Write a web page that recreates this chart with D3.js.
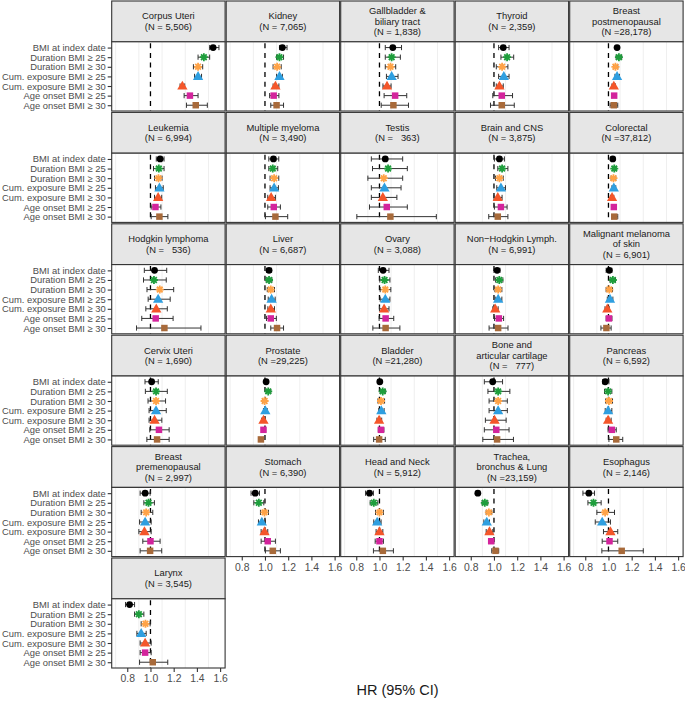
<!DOCTYPE html>
<html><head><meta charset="utf-8">
<script src="https://cdn.jsdelivr.net/npm/d3@7"></script>
<style>
html,body{margin:0;padding:0;background:#fff;}
svg text{font-family:"Liberation Sans",Arial,Helvetica,sans-serif;white-space:pre;}
</style></head>
<body><svg id="chart" width="685" height="703"></svg>
<script>
const cancers = [
 "Corpus Uteri\n(N = 5,506)","Kidney\n(N = 7,065)","Gallbladder &\nbiliary tract\n(N = 1,838)","Thyroid\n(N = 2,359)","Breast\npostmenopausal\n(N =28,178)",
 "Leukemia\n(N = 6,994)","Multiple myeloma\n(N = 3,490)","Testis\n(N =   363)","Brain and CNS\n(N = 3,875)","Colorectal\n(N =37,812)",
 "Hodgkin lymphoma\n(N =   536)","Liver\n(N = 6,687)","Ovary\n(N = 3,088)","Non\u2212Hodgkin Lymph.\n(N = 6,991)","Malignant melanoma\nof skin\n(N = 6,901)",
 "Cervix Uteri\n(N = 1,690)","Prostate\n(N =29,225)","Bladder\n(N =21,280)","Bone and\narticular cartilage\n(N =   777)","Pancreas\n(N = 6,592)",
 "Breast\npremenopausal\n(N = 2,997)","Stomach\n(N = 6,390)","Head and Neck\n(N = 5,912)","Trachea,\nbronchus & Lung\n(N =23,159)","Esophagus\n(N = 2,146)",
 "Larynx\n(N = 3,545)"
];
const measures = ["BMI at index date","Duration BMI \u2265 25","Duration BMI \u2265 30","Cum. exposure BMI \u2265 25","Cum. exposure BMI \u2265 30","Age onset BMI \u2265 25","Age onset BMI \u2265 30"];
const hr = [
 [1.54,1.46,1.41,1.41,1.275,1.34,1.39],
 [1.15,1.125,1.105,1.125,1.09,1.075,1.10],
 [1.115,1.105,1.095,1.105,1.065,1.135,1.12],
 [1.08,1.113,1.07,1.085,1.047,1.067,1.067],
 [1.074,1.09,1.06,1.074,1.046,1.049,1.046],
 [1.083,1.072,1.069,1.077,1.066,1.043,1.077],
 [1.073,1.067,1.079,1.079,1.053,1.076,1.09],
 [1.05,1.074,1.037,1.043,1.029,1.063,1.094],
 [1.047,1.07,1.047,1.06,1.033,1.06,1.033],
 [1.037,1.05,1.043,1.046,1.031,1.046,1.05],
 [1.035,1.03,1.08,1.066,1.05,1.045,1.12],
 [1.035,1.035,1.05,1.057,1.05,1.05,1.104],
 [1.031,1.044,1.05,1.05,1.04,1.053,1.053],
 [1.027,1.046,1.036,1.036,1.011,1.042,1.036],
 [1.007,1.038,1.007,1.013,0.99,1.004,0.982],
 [1.01,1.048,1.048,1.048,1.035,1.073,1.057],
 [1.01,1.028,0.997,1.003,0.987,0.987,0.965],
 [1.003,1.028,1.013,1.016,0.997,1.013,0.997],
 [0.989,1.036,1.036,1.036,1.005,1.02,1.027],
 [0.972,0.997,1.004,0.997,0.997,1.029,1.067],
 [0.954,0.983,0.963,0.954,0.948,1.0,0.997],
 [0.916,0.947,0.996,0.973,0.996,1.024,1.067],
 [0.914,0.951,1.0,0.98,1.0,1.0,1.029],
 [0.861,0.921,0.956,0.938,0.961,0.976,1.013],
 [0.831,0.871,0.971,0.946,1.017,1.009,1.114],
 [0.82,0.90,0.957,0.92,0.954,0.954,1.02]
];
const ciLow = [
 [1.51,1.41,1.37,1.38,1.255,1.29,1.31],
 [1.125,1.10,1.07,1.10,1.07,1.04,1.05],
 [1.05,1.05,1.05,1.06,1.03,1.04,1.015],
 [1.04,1.06,1.02,1.04,1.02,0.99,0.97],
 [1.066,1.066,1.043,1.056,1.03,1.03,1.014],
 [1.05,1.026,1.035,1.043,1.035,1.006,1.006],
 [1.033,1.033,1.044,1.044,1.024,1.024,1.004],
 [0.93,0.94,0.90,0.93,0.93,0.914,0.805],
 [1.004,1.033,1.013,1.024,1.0,1.004,0.955],
 [1.03,1.037,1.023,1.03,1.017,1.03,1.03],
 [0.947,0.94,0.97,0.98,0.96,0.925,0.88],
 [1.013,1.01,1.02,1.028,1.025,1.013,1.05],
 [0.99,1.003,1.006,1.006,1.0,0.997,0.943],
 [1.0,1.014,1.008,1.011,0.99,1.005,0.958],
 [0.98,1.013,0.98,0.99,0.97,0.98,0.935],
 [0.953,0.956,0.979,0.988,0.988,0.994,0.969],
 [1.0,1.01,0.98,0.987,0.972,0.972,0.95],
 [0.99,1.006,0.987,0.994,0.978,0.99,0.95],
 [0.917,0.948,0.958,0.958,0.926,0.917,0.904],
 [0.95,0.966,0.976,0.972,0.98,0.997,1.004],
 [0.911,0.943,0.92,0.906,0.90,0.934,0.911],
 [0.88,0.904,0.961,0.944,0.967,0.967,1.004],
 [0.88,0.92,0.966,0.951,0.971,0.963,0.948],
 [0.853,0.898,0.933,0.913,0.933,0.953,0.981],
 [0.78,0.823,0.90,0.886,0.957,0.946,0.943],
 [0.785,0.863,0.92,0.883,0.911,0.911,0.906]
];
const ciHigh = [
 [1.59,1.51,1.45,1.44,1.295,1.41,1.49],
 [1.19,1.16,1.14,1.15,1.12,1.12,1.16],
 [1.19,1.18,1.14,1.16,1.10,1.235,1.25],
 [1.13,1.17,1.12,1.13,1.08,1.16,1.175],
 [1.086,1.114,1.08,1.094,1.06,1.066,1.08],
 [1.117,1.117,1.10,1.11,1.097,1.09,1.15],
 [1.119,1.11,1.119,1.116,1.09,1.133,1.196],
 [1.20,1.24,1.20,1.186,1.15,1.24,1.49],
 [1.09,1.12,1.08,1.099,1.07,1.113,1.12],
 [1.046,1.066,1.063,1.063,1.046,1.063,1.08],
 [1.14,1.136,1.20,1.17,1.145,1.195,1.435],
 [1.057,1.06,1.082,1.088,1.082,1.098,1.16],
 [1.082,1.09,1.098,1.09,1.082,1.123,1.176],
 [1.052,1.077,1.068,1.068,1.036,1.083,1.121],
 [1.03,1.06,1.035,1.038,1.007,1.03,1.023],
 [1.067,1.145,1.13,1.136,1.098,1.161,1.161],
 [1.02,1.05,1.013,1.019,1.003,1.006,0.987],
 [1.016,1.05,1.044,1.04,1.019,1.038,1.05],
 [1.074,1.137,1.115,1.115,1.105,1.13,1.168],
 [1.004,1.029,1.035,1.029,1.023,1.067,1.123],
 [0.997,1.034,1.02,1.006,1.006,1.083,1.097],
 [0.953,0.99,1.03,1.004,1.024,1.09,1.133],
 [0.948,0.986,1.034,1.014,1.029,1.034,1.12],
 [0.869,0.947,0.981,0.961,0.99,0.999,1.041],
 [0.88,0.937,1.052,1.017,1.08,1.08,1.30],
 [0.863,0.943,0.997,0.963,1.006,1.006,1.149]
];
const xTicks = [0.8,1.0,1.2,1.4,1.6];
const gridTicks = [0.7,0.9,1.1,1.3,1.5];
const markerColors = ["#000000","#1e9e3c","#ffa347","#2f9fe0","#f4562a","#d3249c","#a86a3a"];
const markerShapes = ["circle","asterisk","asterisk","triangle","triangle","square","square"];
const xTitle = "HR (95% CI)";

const svg = d3.select("#chart");
const nCol = 5;
const colPitch = 114.5, panelW = 113.4, left0 = 111.7;
const rowPitch = 111.4, stripH = 40.8;
const xDomain = [0.666, 1.643];
const y = d3.scalePoint().domain(measures).padding(0.6);

function shape(g, kind, color, cx, cy){
  if(kind==="circle"){
    g.append("circle").attr("cx",cx).attr("cy",cy).attr("r",3.4).attr("fill",color);
  } else if(kind==="triangle"){
    g.append("path").attr("d", d3.symbol().type(d3.symbolTriangle).size(46)()).attr("transform",`translate(${cx},${cy+0.6})`).attr("fill",color);
  } else if(kind==="square"){
    g.append("path").attr("d", d3.symbol().type(d3.symbolSquare).size(42)()).attr("transform",`translate(${cx},${cy})`).attr("fill",color);
  } else {
    const r=4, p=d3.path();
    for(let k=0;k<4;k++){const a=k*Math.PI/4; p.moveTo(cx-r*Math.cos(a),cy-r*Math.sin(a)); p.lineTo(cx+r*Math.cos(a),cy+r*Math.sin(a));}
    g.append("path").attr("d",p.toString()).attr("stroke",color).attr("stroke-width",1.8).attr("fill","none");
  }
}

cancers.forEach((label,i)=>{
  const col=i%nCol, row=Math.floor(i/nCol);
  const x0 = left0 + col*colPitch;
  const top = row*rowPitch + 1;
  const pTop = top + stripH, pBot = row*rowPitch + 111;
  const x = d3.scaleLinear().domain(xDomain).range([x0, x0+panelW]);
  const yy = y.copy().range([pTop, pBot]);
  const g = svg.append("g");
  g.append("rect").attr("x",x0).attr("y",top).attr("width",panelW).attr("height",stripH)
    .attr("fill","#e6e6e6").attr("stroke","#333").attr("stroke-width",1.1);
  const lines = label.split("\n");
  const lh = 10.6, cy = top + stripH/2;
  lines.forEach((t,k)=>{
    g.append("text").attr("x",x0+panelW/2).attr("y",cy + (k-(lines.length-1)/2)*lh).attr("dy","0.35em")
      .attr("text-anchor","middle").attr("font-size",9.4).attr("fill","#1a1a1a").text(t);
  });
  g.append("rect").attr("x",x0).attr("y",pTop).attr("width",panelW).attr("height",pBot-pTop).attr("fill","#fff");
  g.selectAll(".grid").data(gridTicks).join("line")
    .attr("x1",d=>x(d)).attr("x2",d=>x(d)).attr("y1",pTop).attr("y2",pBot)
    .attr("stroke","#ebebeb").attr("stroke-width",0.8);
  g.append("line").attr("x1",x(1)).attr("x2",x(1)).attr("y1",pTop).attr("y2",pBot)
    .attr("stroke","#000").attr("stroke-width",1.3).attr("stroke-dasharray","5,4.6").attr("stroke-dashoffset",-1.5);
  measures.forEach((m,j)=>{
    const yv = yy(m), lo=x(ciLow[i][j]), hi=x(ciHigh[i][j]);
    g.append("line").attr("x1",lo).attr("x2",hi).attr("y1",yv).attr("y2",yv).attr("stroke","#333").attr("stroke-width",1);
    [lo,hi].forEach(v=>g.append("line").attr("x1",v).attr("x2",v).attr("y1",yv-2.6).attr("y2",yv+2.6).attr("stroke","#333").attr("stroke-width",1));
    shape(g, markerShapes[j], markerColors[j], x(hr[i][j]), yv);
  });
  g.append("rect").attr("x",x0).attr("y",pTop).attr("width",panelW).attr("height",pBot-pTop)
    .attr("fill","none").attr("stroke","#333").attr("stroke-width",1.1);
  if(col===0){
    const ya = svg.append("g").attr("transform",`translate(${x0},0)`).call(d3.axisLeft(yy).tickSize(4).tickPadding(2));
    ya.attr("font-family",null).attr("font-size",null);
    ya.select(".domain").remove();
    ya.selectAll(".tick line").attr("stroke","#333").attr("stroke-width",1.1);
    ya.selectAll(".tick text").style("font-size","9.4px").attr("fill","#4d4d4d");
  }
  const below = i + nCol;
  if(below >= cancers.length){
    const xa = svg.append("g").attr("transform",`translate(0,${pBot})`).call(d3.axisBottom(x).tickValues(xTicks).tickFormat(d3.format(".1f")).tickSize(4).tickPadding(3));
    xa.attr("font-family",null).attr("font-size",null);
    xa.select(".domain").remove();
    xa.selectAll(".tick line").attr("stroke","#333").attr("stroke-width",1.1);
    xa.selectAll(".tick text").style("font-size","10.4px").attr("fill","#4d4d4d");
  }
});
svg.append("text").attr("x",397.5).attr("y",695).attr("text-anchor","middle").attr("font-size",14.5).attr("fill","#1a1a1a").text(xTitle);
</script></body></html>
